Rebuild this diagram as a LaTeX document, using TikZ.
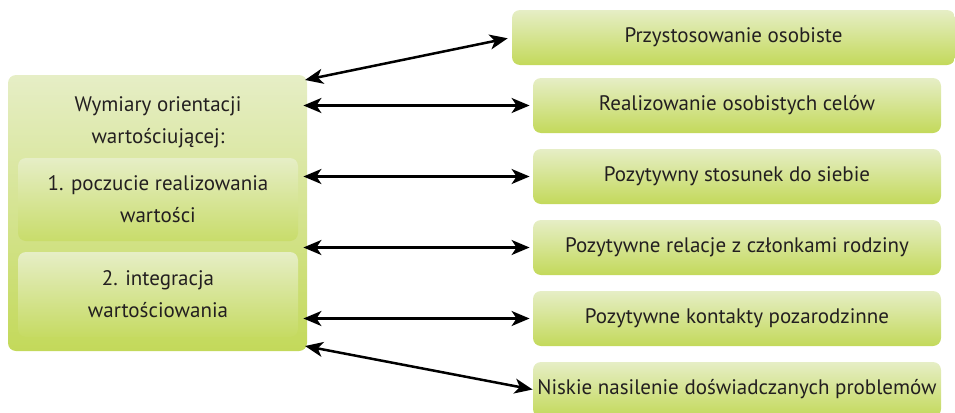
\documentclass[tikz,border=0pt]{standalone}
\usepackage{fontspec}
\setmainfont{PT Sans}
\usetikzlibrary{arrows.meta,positioning}
\definecolor{boxtop}{HTML}{E6EEC6}
\definecolor{boxbot}{HTML}{C3D95A}
\definecolor{txt}{HTML}{231F20}
\tikzset{
  gbox/.style={rounded corners=4pt,top color=boxtop,bottom color=boxbot,draw=none,
    text=txt,align=center,inner sep=0pt,font=\fontsize{10.5}{16}\selectfont},
  link/.style={line width=1.25pt,{Stealth[length=9pt,width=7.5pt,inset=2.5pt]}-{Stealth[length=9pt,width=7.5pt,inset=2.5pt]}}
}
\begin{document}
\begin{tikzpicture}[x=0.5pt,y=-0.5pt]
        \useasboundingbox (0,0) rectangle (955,413);

        % left side
        \node[gbox,minimum width=149.5pt,minimum height=138pt] (dims) at (157.5,213) {};
        \node[text=txt,align=center,font=\fontsize{10.5}{16}\selectfont] (title) at (158,122) {Wymiary orientacji\\wartościującej:};
        \node[gbox,minimum width=140pt,minimum height=41.5pt,bottom color=boxbot!85!boxtop] (dim1) at (158,199.5) {1. poczucie realizowania\\wartości};
        \node[gbox,minimum width=140pt,minimum height=42.5pt,bottom color=boxbot!92!boxtop] (dim2) at (158,294.5) {2. integracja\\wartościowania};

        % right side
        \node[gbox,minimum width=221.5pt,minimum height=27.5pt] (out1) at (733.5,37.5) {Przystosowanie osobiste};
        \node[gbox,minimum width=204pt,minimum height=27.5pt] (out2) at (737,105.5) {Realizowanie osobistych celów};
        \node[gbox,minimum width=204pt,minimum height=27.5pt] (out3) at (737,176.5) {Pozytywny stosunek do siebie};
        \node[gbox,minimum width=204pt,minimum height=27.5pt] (out4) at (737,247.5) {Pozytywne relacje z członkami rodziny};
        \node[gbox,minimum width=204pt,minimum height=27.5pt] (out5) at (737,318.5) {Pozytywne kontakty pozarodzinne};
        \node[gbox,minimum width=204pt,minimum height=27.5pt] (out6) at (737,389.5) {Niskie nasilenie doświadczanych problemów};

        % arrows
        \coordinate (dtop) at (305,80);
        \coordinate (dbot) at (305,346);
        \draw[link,shorten >=2pt] (dtop) -- (out1.west);
        \foreach \to in {out2,out3,out4,out5}
        \draw[link,shorten <=-2pt,shorten >=1.5pt] (dims.east |- \to.west) -- (\to.west);
        \draw[link] (dbot) -- (out6.west);
\end{tikzpicture}
\end{document}
